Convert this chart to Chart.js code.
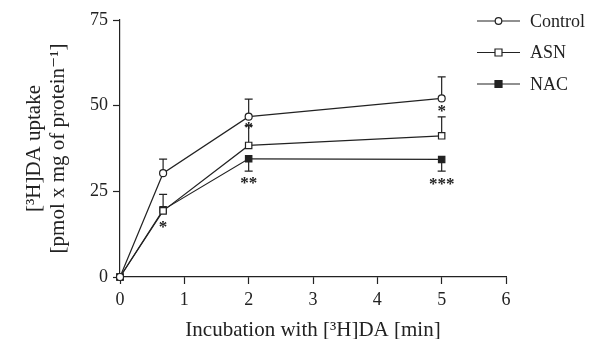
<!DOCTYPE html>
<html>
<head>
<meta charset="utf-8">
<script src="https://cdn.jsdelivr.net/npm/chart.js@4"></script>
<style>
  html, body { margin: 0; padding: 0; background: #fff; }
  #wrap { width: 598px; height: 339px; }
</style>
</head>
<body>
<div id="wrap"><canvas id="myChart" width="598" height="339"></canvas></div>
<script>
// data
const times = [0, 0.67, 2, 5];
const controlValues = [0, 30.3, 46.8, 52.1];
const controlErr = [0, 4.1, 5.1, 6.3];
const asnValues = [0, 19.3, 38.4, 41.2];
const asnErr = [0, 4.8, 5.8, 5.5];
const nacValues = [0, 19.6, 34.5, 34.3];
const nacErr = [0, 0, -3.6, -3.4];
const xTicks = [0, 1, 2, 3, 4, 5, 6];
const yTicks = [0, 25, 50, 75];
const seriesNames = ['Control', 'ASN', 'NAC'];
const stars = [
  { x: 0.67, y: 15.3, text: '*' },
  { x: 2, y: 44.2, text: '*' },
  { x: 2, y: 28.2, text: '**' },
  { x: 5, y: 49.2, text: '*' },
  { x: 5, y: 27.9, text: '***' }
];

const ink = '#222';
const serif = '"Liberation Serif", "DejaVu Serif", serif';

function toPoints(vals) {
  return times.map((t, i) => ({ x: t, y: vals[i] }));
}

const errorBars = {
  id: 'errorBars',
  beforeDatasetsDraw(chart) {
    const ctx = chart.ctx, xs = chart.scales.x, ys = chart.scales.y;
    const errs = [controlErr, asnErr, nacErr];
    const vals = [controlValues, asnValues, nacValues];
    ctx.save();
    ctx.strokeStyle = ink;
    ctx.lineWidth = 1.2;
    errs.forEach((err, d) => {
      err.forEach((e, i) => {
        if (!e) return;
        const px = xs.getPixelForValue(times[i]);
        const y0 = ys.getPixelForValue(vals[d][i]);
        const y1 = ys.getPixelForValue(vals[d][i] + e);
        ctx.beginPath();
        ctx.moveTo(px, y0); ctx.lineTo(px, y1);
        ctx.moveTo(px - 4, y1); ctx.lineTo(px + 4, y1);
        ctx.stroke();
      });
    });
    ctx.restore();
  }
};

const extras = {
  id: 'extras',
  afterDraw(chart) {
    const ctx = chart.ctx, xs = chart.scales.x, ys = chart.scales.y;
    ctx.save();
    ctx.fillStyle = ink;
    ctx.font = 'bold 17px ' + serif;
    ctx.textAlign = 'center';
    ctx.textBaseline = 'middle';
    stars.forEach(s => {
      ctx.fillText(s.text, xs.getPixelForValue(s.x), ys.getPixelForValue(s.y) + 3);
    });

    // legend
    ctx.font = '18px ' + serif;
    ctx.textAlign = 'left';
    ctx.strokeStyle = ink;
    ctx.lineWidth = 1.2;
    seriesNames.forEach((name, i) => {
      const y = 21 + i * 31.5;
      ctx.beginPath();
      ctx.moveTo(477, y); ctx.lineTo(520, y);
      ctx.stroke();
      ctx.fillStyle = '#fff';
      ctx.beginPath();
      if (i === 0) ctx.arc(498.5, y, 3.3, 0, Math.PI * 2);
      else ctx.rect(495, y - 3.5, 7, 7);
      if (i === 2) ctx.fillStyle = ink;
      ctx.fill();
      ctx.stroke();
      ctx.fillStyle = ink;
      ctx.fillText(name, 530, y + 1);
    });
    ctx.restore();
  }
};

const common = {
  borderColor: ink,
  borderWidth: 1.2,
  pointBorderColor: ink,
  pointBorderWidth: 1.2,
  tension: 0,
  clip: false
};

const config = {
  type: 'line',
  data: {
    datasets: [
      Object.assign({ label: seriesNames[0], data: toPoints(controlValues), pointStyle: 'circle', pointRadius: 3.5, pointBackgroundColor: '#fff' }, common),
      Object.assign({ label: seriesNames[1], data: toPoints(asnValues), pointStyle: 'rect', pointRadius: 4.5, pointBackgroundColor: '#fff' }, common),
      Object.assign({ label: seriesNames[2], data: toPoints(nacValues), pointStyle: 'rect', pointRadius: 4.5, pointBackgroundColor: ink }, common)
    ]
  },
  options: {
    responsive: false,
    animation: false,
    layout: { padding: { top: 20, right: 92, left: 0, bottom: 0 } },
    plugins: { legend: { display: false }, tooltip: { enabled: false } },
    scales: {
      x: {
        type: 'linear', min: 0, max: 6,
        afterBuildTicks: s => { s.ticks = xTicks.map(v => ({ value: v })); },
        afterFit: s => { s.height = 62; },
        grid: { drawOnChartArea: false, tickLength: 7, color: ink, tickWidth: 1.2 },
        border: { color: ink, width: 1.2 },
        ticks: { color: ink, font: { family: serif, size: 18 }, padding: 5 },
        title: { display: true, text: 'Incubation with [³H]DA [min]', color: ink, font: { family: serif, size: 21, lineHeight: '18px' }, padding: { top: 0, bottom: 0 } }
      },
      y: {
        type: 'linear', min: 0, max: 75,
        afterBuildTicks: s => { s.ticks = yTicks.map(v => ({ value: v })); },
        afterFit: s => { s.width = 120; },
        grid: { drawOnChartArea: false, tickLength: 7, color: ink, tickWidth: 1.2 },
        border: { color: ink, width: 1.2 },
        ticks: { color: ink, font: { family: serif, size: 18 }, padding: 5 },
        title: { display: true, text: ['[³H]DA uptake', '[pmol x mg of protein⁻¹]'], color: ink, font: { family: serif, size: 21, lineHeight: '24px' }, padding: { top: 22, bottom: 0 } }
      }
    }
  },
  plugins: [errorBars, extras]
};

const myChart = new Chart(document.getElementById('myChart'), config);
</script>
</body>
</html>
